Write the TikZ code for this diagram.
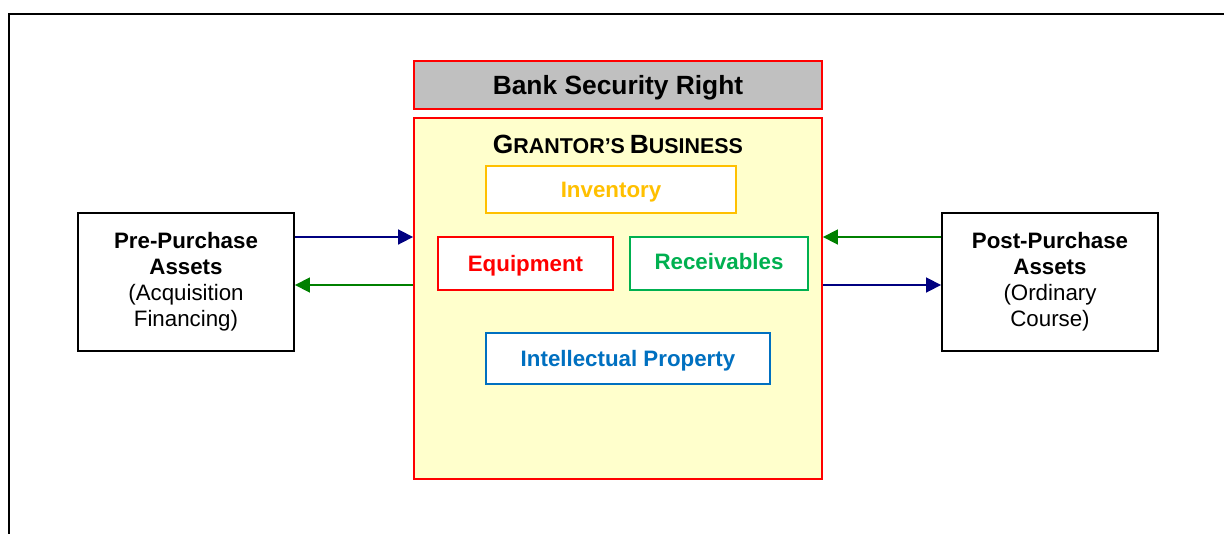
\documentclass[tikz,border=0pt]{standalone}
\usepackage{fontspec}
\setmainfont{Liberation Sans}
\usetikzlibrary{arrows.meta,calc}
\definecolor{bankgray}{RGB}{192,192,192}
\definecolor{bizyellow}{RGB}{255,255,204}
\definecolor{invorange}{RGB}{255,192,0}
\definecolor{recgreen}{RGB}{0,176,80}
\definecolor{ipblue}{RGB}{0,112,192}
\definecolor{arrnavy}{RGB}{0,0,128}
\definecolor{arrgreen}{RGB}{0,128,0}
\newcommand{\bodyfont}{\fontsize{12.7}{14.8}\selectfont}
\begin{document}
\begin{tikzpicture}[x=0.02cm, y=-0.02cm,
  assetbox/.style={draw=black, line width=1.1pt, minimum width=4.32cm, minimum height=2.76cm, align=center, font=\bodyfont},
  itembox/.style={draw=#1, fill=white, line width=1.1pt, text=#1, font=\bodyfont\bfseries, text height=9.2pt, text depth=0pt},
  flow/.style={draw=#1, line width=1pt, -{Triangle[length=3mm,width=3mm]}}]
\useasboundingbox (0,0) rectangle (1224,534);
% Frame
\draw[line width=1.7pt] (1224,14) -- (9,14) -- (9,534);
% Main boxes
\node[draw=red, fill=bankgray, line width=1.1pt, minimum width=8.16cm, minimum height=0.96cm, font=\fontsize{15}{18}\selectfont\bfseries, text height=11pt, text depth=0pt] (bank) at (618,85) {Bank Security Right};
\node[draw=red, fill=bizyellow, line width=1.1pt, minimum width=8.16cm, minimum height=7.22cm] (grantor) at (618,298.5) {};
\node[anchor=base, font=\bfseries] (title) at (618,153) {{\fontsize{15}{18}\selectfont G}{\fontsize{12.2}{14}\selectfont RANTOR'S} {\fontsize{15}{18}\selectfont B}{\fontsize{12.2}{14}\selectfont USINESS}};
% Collateral
\node[itembox=invorange, minimum width=5cm, minimum height=0.94cm] (inventory) at (611,189.5) {Inventory};
\node[itembox=red, minimum width=3.5cm, minimum height=1.06cm] (equipment) at (525.5,263.5) {Equipment};
\node[itembox=recgreen, minimum width=3.56cm, minimum height=1.06cm, text height=7pt] (receivables) at (719,263.5) {Receivables};
\node[itembox=ipblue, minimum width=5.68cm, minimum height=1.02cm] (ip) at (628,358.5) {Intellectual Property};
% Assets
\node[assetbox] (pre) at (186,282) {\textbf{Pre-Purchase}\\ \textbf{Assets}\\ (Acquisition\\ Financing)};
\node[assetbox] (post) at (1050,282) {\textbf{Post-Purchase}\\ \textbf{Assets}\\ (Ordinary\\ Course)};
% Arrows
\draw[flow=arrnavy] ($(pre.east)+(0,-45)$) -- ($(pre.east -| grantor.west)+(0,-45)$);
\draw[flow=arrgreen] ($(pre.east -| grantor.west)+(0,3)$) -- ($(pre.east)+(0,3)$);
\draw[flow=arrgreen] ($(post.west)+(0,-45)$) -- ($(post.west -| grantor.east)+(0,-45)$);
\draw[flow=arrnavy] ($(post.west -| grantor.east)+(0,3)$) -- ($(post.west)+(0,3)$);
\end{tikzpicture}
\end{document}
